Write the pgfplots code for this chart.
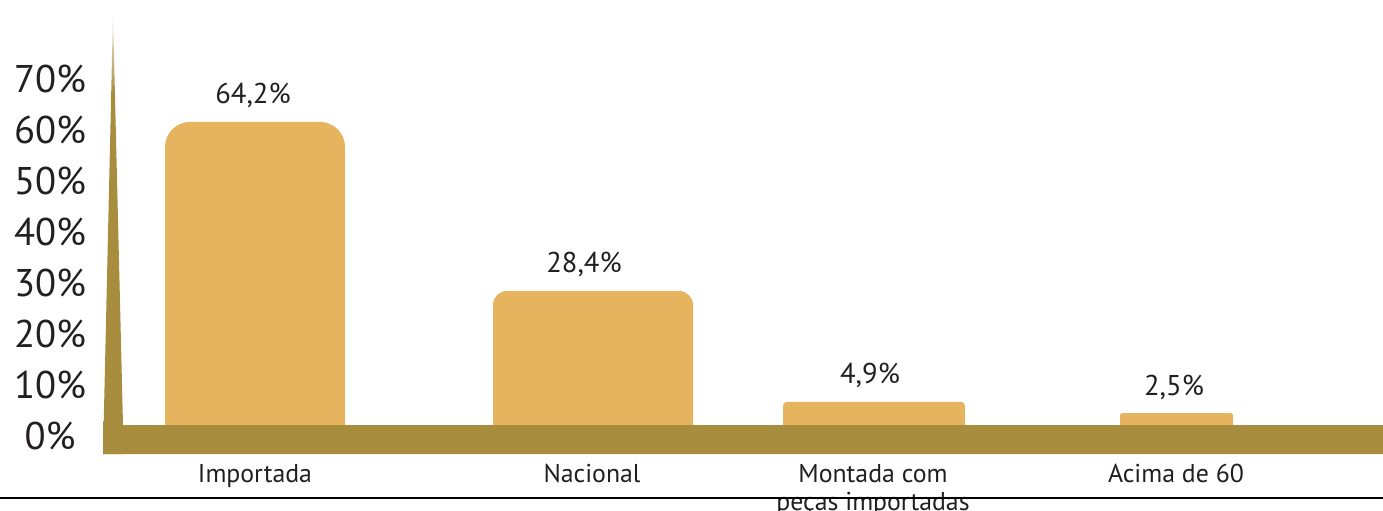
\documentclass[border=0pt]{standalone}
\usepackage{fontspec}
\setmainfont{PT Sans}
\usepackage{pgfplots}
\pgfplotsset{compat=1.18}
\definecolor{barc}{HTML}{E6B45E}
\definecolor{olivec}{HTML}{A88D3F}
\definecolor{txt}{HTML}{231F20}
\pgfdeclareverticalshading{spike}{100bp}{color(0bp)=(olivec); color(25bp)=(olivec); color(66bp)=(olivec); color(75bp)=(olivec!12!white); color(100bp)=(olivec!12!white)}
\begin{document}
\begin{tikzpicture}
\begin{axis}[
  at={(0,0)}, anchor=south west,
  scale only axis, width=691.5pt, height=255pt,
  xmin=0, xmax=1383, ymin=-18.008, ymax=90.042,
  axis line style={draw=none}, tick style={draw=none},
  clip=false,
  xtick={255,592,873,1176},
  xticklabels={Importada, Nacional, {Montada com\\peças importadas}, Acima de 60},
  xticklabel style={font=\fontsize{12.9}{14}\selectfont, align=center, anchor=north, inner sep=0pt, yshift=23pt, text=txt},
  ytick={-2.33,8.47,19.27,30.07,40.87,51.67,62.47,73.27},
  yticklabels={0\%,10\%,20\%,30\%,40\%,50\%,60\%,70\%},
  yticklabel style={font=\fontsize{19.3}{22}\selectfont, anchor=center, inner sep=0pt, xshift=25pt, text=txt},
]
% bars (values in %)
\addplot[fill=barc, draw=none, mark=none, rounded corners=12.5pt] coordinates {(165,-3) (165,64.2) (345,64.2) (345,-3)};
\addplot[fill=barc, draw=none, mark=none, rounded corners=7pt] coordinates {(493,-3) (493,28.4) (693,28.4) (693,-3)};
\addplot[fill=barc, draw=none, mark=none, rounded corners=2pt] coordinates {(783,-3) (783,4.9) (965,4.9) (965,-3)};
\addplot[fill=barc, draw=none, mark=none, rounded corners=1pt] coordinates {(1120,-3) (1120,2.5) (1233,2.5) (1233,-3)};
% value labels
\addplot[draw=none, mark=none, nodes near coords, point meta=explicit symbolic,
  nodes near coords style={anchor=base, yshift=9pt, inner sep=0pt, font=\fontsize{14.3}{16}\selectfont, text=txt}]
  coordinates {(253,64.2)[64,2\%] (584,28.4)[28,4\%] (870,4.9)[4,9\%] (1174,2.5)[2,5\%]};
% decorative wall and floor
\path[shading=spike] (axis cs:103,-6.144) -- (axis cs:113,87.08) -- (axis cs:123,0) -- (axis cs:123,-6.144) -- cycle;
\fill[olivec] (axis cs:121,0) -- (axis cs:1383,0) -- (axis cs:1383,-6.144) -- (axis cs:103,-6.144) -- (axis cs:103.2,-5) -- (axis cs:121,-5) -- cycle;
\draw[black, line width=1pt] (axis cs:0,-15.466) -- (axis cs:1383,-15.466);
\end{axis}
\pgfresetboundingbox
\useasboundingbox (0,0) rectangle (691.5pt,255pt);
\end{tikzpicture}
\end{document}
